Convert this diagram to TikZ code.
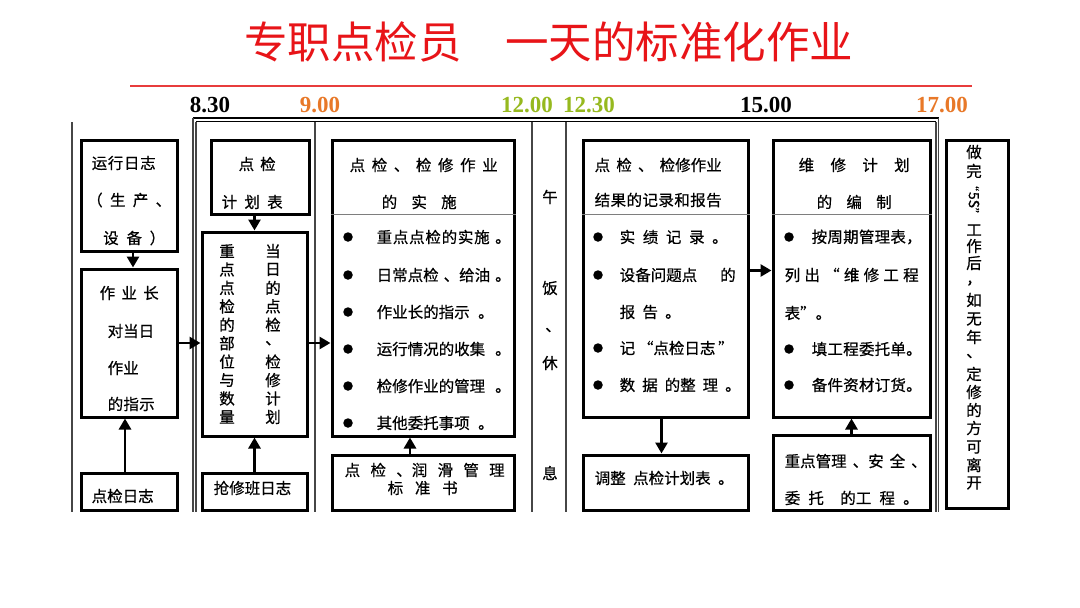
\documentclass[tikz,border=0pt]{standalone}
\usepackage{fontspec}
\setmainfont{Noto Sans CJK SC}
\newfontfamily\bodyfont{Noto Sans CJK SC}[FakeBold=0.6]
\newfontfamily\tmfont{Liberation Serif}
\usetikzlibrary{arrows.meta}
\definecolor{titlered}{RGB}{232,20,24}
\definecolor{linered}{RGB}{232,60,60}
\definecolor{tmorange}{RGB}{232,120,40}
\definecolor{tmgreen}{RGB}{150,185,30}
\definecolor{framegray}{RGB}{70,70,70}
\ExplSyntaxOn
\NewDocumentCommand\spr{mm}{\makebox[#1pt][s]{\tl_map_inline:nn{#2}{##1\hfil}\unskip}}
\ExplSyntaxOff
\tikzset{
  box/.style={draw, line width=3pt, inner sep=0pt},
  tx/.style={inner sep=0pt, font=\bodyfont\fontsize{15.5}{18}\selectfont, anchor=west},
  vt/.style={inner sep=0pt, font=\bodyfont\fontsize{15.5}{18}\selectfont},
  arr/.style={line width=2.8pt, -{Triangle[width=12pt,length=11pt]}},
  bul/.style={circle, fill, inner sep=0pt, minimum size=9.5pt},
  tm/.style={inner sep=0pt, font=\tmfont\bfseries\fontsize{23}{26}\selectfont},
  vline/.style={draw=framegray, line width=1.1pt},
  divl/.style={draw=framegray!70, line width=0.8pt}
}
\begin{document}
\begin{tikzpicture}[x=1pt, y=-1pt]
\fill[white] (0,0) rectangle (1080,608);
\useasboundingbox (0,0) rectangle (1080,608);

% title
\node[anchor=west, inner sep=0pt, text=titlered, font=\fontsize{43.5}{50}\selectfont] (title) at (244,42) {专职点检员　一天的标准化作业};
\draw[linered, line width=2pt] (130,86) -- (972,86);

% time labels
\node[tm] (t830) at (210,105) {8.30};
\node[tm, text=tmorange] (t900) at (320,105) {9.00};
\node[tm, text=tmgreen] (t1200) at (527,105) {12.00};
\node[tm, text=tmgreen] (t1230) at (589,105) {12.30};
\node[tm] (t1500) at (766,105) {15.00};
\node[tm, text=tmorange] (t1700) at (942,105) {17.00};

% frame lines
\draw[line width=1.6pt] (193,118) -- (938.5,118);
\draw[line width=1pt] (196,121.5) -- (936,121.5);
\draw[vline] (72,122) -- (72,512);
\draw[vline] (193,118) -- (193,512);
\draw[vline] (196,122) -- (196,512);
\draw[vline] (315,122) -- (315,512);
\draw[vline] (532,122) -- (532,512);
\draw[vline] (566,122) -- (566,512);
\draw[vline] (936,122) -- (936,512);
\draw[vline] (938.5,118) -- (938.5,512);

% boxes
\node[box, minimum width=96pt, minimum height=111pt] (A) at (129,195.5) {};
\node[box, minimum width=96pt, minimum height=148pt] (B) at (129,343) {};
\node[box, minimum width=96pt, minimum height=37pt] (C) at (129,491.5) {};
\node[box, minimum width=98pt, minimum height=74pt] (D) at (260,177) {};
\node[box, minimum width=105pt, minimum height=204pt] (E) at (254.5,334) {};
\node[box, minimum width=105pt, minimum height=37pt] (F) at (254.5,491.5) {};
\node[box, minimum width=182pt, minimum height=296pt] (G) at (423,288) {};
\node[box, minimum width=182pt, minimum height=55pt] (H) at (423,482.5) {};
\node[box, minimum width=165pt, minimum height=277pt] (I) at (665.5,278.5) {};
\node[box, minimum width=165pt, minimum height=55pt] (J) at (665.5,482.5) {};
\node[box, minimum width=157pt, minimum height=277pt] (K) at (851.5,278.5) {};
\node[box, minimum width=157pt, minimum height=75pt] (L) at (851.5,472.5) {};
\node[box, minimum width=62pt, minimum height=368pt] (M) at (977,324) {};

% dividers
\draw[divl] (G.west |- 0,214) -- (G.east |- 0,214);
\draw[divl] (I.west |- 0,214) -- (I.east |- 0,214);
\draw[divl] (K.west |- 0,214) -- (K.east |- 0,214);

% arrows
\draw[arr] ([xshift=4pt]A.south) -- ([xshift=4pt]B.north);
\draw[arr] ([xshift=-4pt]C.north) -- ([xshift=-4pt]B.south);
\draw[arr] (E.north |- D.south) -- (E.north);
\draw[arr] (F.north) -- (E.south);
\draw[arr] (B.east) -- (E.west |- B.east);
\draw[arr] (E.east |- B.east) -- (G.west |- B.east);
\draw[arr] ([xshift=-13pt]H.north) -- ([xshift=-13pt]G.south);
\draw[arr] ([xshift=-4pt]I.south) -- ([xshift=-4pt]J.north);
\draw[arr] ([yshift=8pt]I.east) -- ([yshift=8pt]K.west);
\draw[arr] (L.north) -- (L.north |- K.south);

% A
\node[tx] (a1) at (91.5,163) {\spr{64}{运行日志}};
\node[tx] (a2) at (87,200) {\spr{84}{（生产、}};
\node[tx] (a3) at (103,238) {\spr{62}{设备）}};
% B
\node[tx] (b1) at (99.5,293) {\spr{59}{作业长}};
\node[tx] (b2) at (107.5,331) {\spr{46}{对当日}};
\node[tx] (b3) at (107.5,368) {\spr{31}{作业}};
\node[tx] (b4) at (107.5,404) {\spr{47}{的指示}};
% C
\node[tx] (c1) at (91.5,496) {\spr{61}{点检日志}};
% D
\node[tx] (d1) at (238.5,164) {\spr{37}{点检}};
\node[tx] (d2) at (221.5,202) {\spr{61}{计划表}};
% E
\foreach \c [count=\i] in {重,点,点,检,的,部,位,与,数,量}
  \node[vt] (el\i) at (227,{251+18.44*(\i-1)}) {\c};
\foreach \c [count=\i] in {当,日,的,点,检,、,检,修,计,划}
  \node[vt] (er\i) at (273,{251+18.44*(\i-1)}) {\c};
% F
\node[tx] (f1) at (213.5,488) {\spr{72}{抢修班日志}};
% G
\node[tx] (g0a) at (349.5,165) {\spr{148}{点检、检修作业}};
\node[tx] (g0b) at (381.5,202) {\spr{75}{的实施}};
\node[bul] (gb1) at (348,237) {};
\node[bul] (gb2) at (348,275) {};
\node[bul] (gb3) at (348,312) {};
\node[bul] (gb4) at (348,349) {};
\node[bul] (gb5) at (348,386) {};
\node[bul] (gb6) at (348,423) {};
\node[tx] (g1) at (376.5,237) {\spr{134}{{\spr{113}{重点点检的实施}}。}};
\node[tx] (g2) at (376.5,275) {\spr{134}{{日常点检}{、给油}。}};
\node[tx] (g3) at (376.5,312) {\spr{117}{{作业长的指示}。}};
\node[tx] (g4) at (376.5,349) {\spr{134}{{运行情况的收集}。}};
\node[tx] (g5) at (376.5,386) {\spr{134}{{检修作业的管理}。}};
\node[tx] (g6) at (376.5,423) {\spr{117}{{其他委托事项}。}};
% H
\node[tx] (h1) at (344.5,470) {\spr{160}{点检{、润}滑管理}};
\node[tx] (h2) at (387.5,488) {\spr{70}{标准书}};
% lunch
\node[vt] (l1) at (550,197) {午};
\node[vt] (l2) at (550,288) {饭};
\node[vt] (l3) at (553,330) {、};
\node[vt] (l4) at (550,363) {休};
\node[vt] (l5) at (550,473) {息};
% I
\node[tx] (i0a) at (594.5,165) {\spr{127}{点检、{检修作业}}};
\node[tx] (i0b) at (594.5,200) {\spr{127}{结果的记录和报告}};
\node[bul] (ib1) at (598,237) {};
\node[bul] (ib2) at (598,275) {};
\node[bul] (ib3) at (598,348) {};
\node[bul] (ib4) at (598,385) {};
\node[tx] (i1) at (619.5,237) {\spr{108}{实绩记录。}};
\node[tx] (i2) at (619.5,275) {\spr{116}{{设备问题点}的}};
\node[tx] (i3) at (619.5,312) {\spr{61}{报告。}};
\node[tx] (i4) at (619.5,348) {\spr{114}{记{“点检日志}”}};
\node[tx] (i5) at (619.5,385) {\spr{121}{数据{的整}理。}};
% J
\node[tx] (j1) at (594.5,478) {\spr{139}{{调整}{点检计划表}。}};
% K
\node[tx] (k0a) at (798.5,165) {\spr{111}{维修计划}};
\node[tx] (k0b) at (816.5,202) {\spr{75}{的编制}};
\node[bul] (kb1) at (789,237) {};
\node[bul] (kb2) at (789,349) {};
\node[bul] (kb3) at (789,385) {};
\node[tx] (k1) at (811.5,237) {\spr{110}{按周期管理表，}};
\node[tx] (k2) at (784.5,275) {\spr{134}{列出“维修工程}};
\node[tx] (k3) at (784.5,313) {表”。};
\node[tx] (k4) at (811.5,349) {\spr{110}{填工程委托单。}};
\node[tx] (k5) at (811.5,385) {\spr{110}{备件资材订货。}};
% L
\node[tx] (lb1) at (784.5,461) {\spr{142}{{重点管理}{、安}全、}};
\node[tx] (lb2) at (784.5,498) {\spr{134}{委托{}{的工}程。}};
% M vertical text
\foreach \c/\yy [count=\i] in {做/152,完/171,工/230,作/246,后/263,，/283,如/300,无/319,年/337,、/356,定/374,修/392,的/410,方/428,可/447,离/465,开/483}
  \node[vt] (m\i) at (974,\yy) {\c};
\node[vt, rotate=-90, font=\bodyfont\fontsize{12}{14}\selectfont] (mq1) at (974,185) {“};
\node[vt, rotate=-90, font=\bodyfont\fontsize{14}{16}\selectfont] (m5s) at (974,200) {5S};
\node[vt, rotate=-90, font=\bodyfont\fontsize{12}{14}\selectfont] (mq2) at (974,214) {”};
\end{tikzpicture}
\end{document}
